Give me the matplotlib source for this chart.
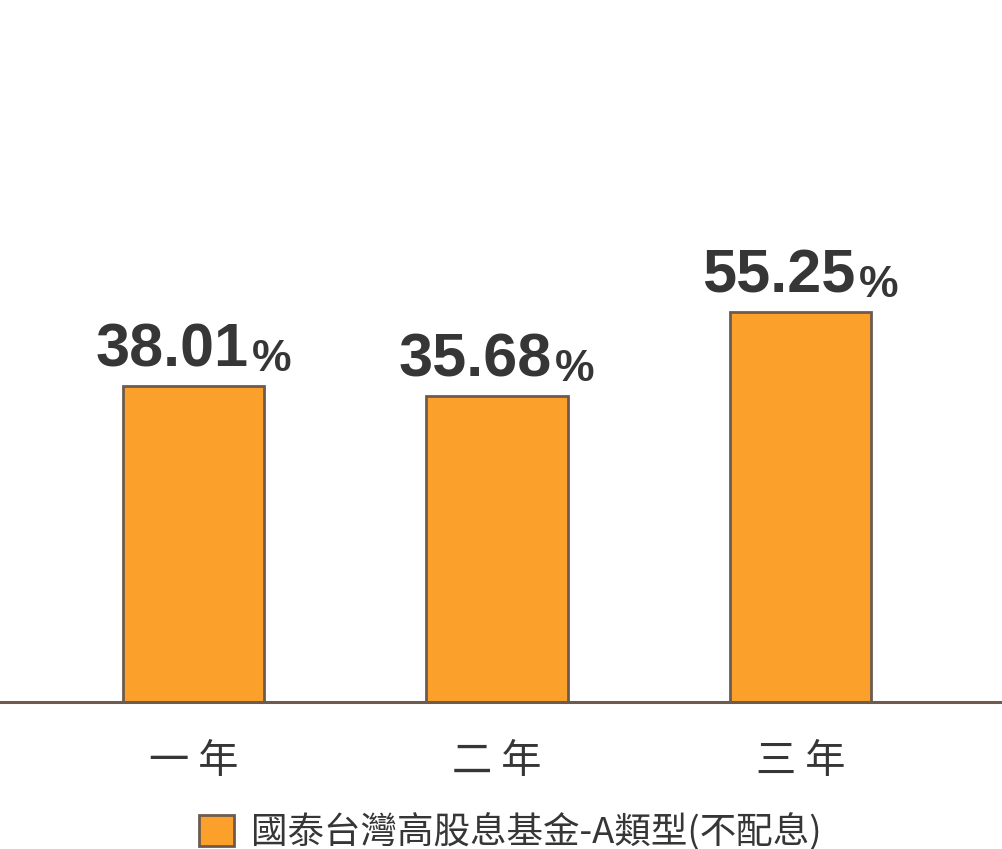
import matplotlib
matplotlib.use("Agg")
import matplotlib.pyplot as plt
from matplotlib.patches import Patch

# data
periods = ['一 年', '二 年', '三 年']
returns = [38.01, 35.68, 55.25]
fund_name = '國泰台灣高股息基金-A類型(不配息)'

bar_color = '#FBA12B'
edge_color = '#6E5B4E'
text_color = '#363636'
y_bottom, y_top = -35.6, 127.9

plt.rcParams['font.family'] = ['Noto Sans CJK TC', 'DejaVu Sans']

fig = plt.figure(figsize=(10.03, 8.49), dpi=100, facecolor='w')
ax = fig.add_axes([0, 1 - 702 / 849, 1, 702 / 849])

x = list(range(len(returns)))
heights = [v - y_bottom for v in returns]
ax.bar(x, heights, bottom=y_bottom, width=0.465, color=bar_color,
       edgecolor=edge_color, linewidth=2, zorder=2)

ax.set_xlim(-0.6376, 2.667)
ax.set_ylim(y_bottom, y_top)

for s in ['top', 'right', 'left']:
    ax.spines[s].set_visible(False)
ax.spines['bottom'].set_color(edge_color)
ax.spines['bottom'].set_linewidth(2.2)
ax.spines['bottom'].set_zorder(3)
ax.set_yticks([])
ax.set_xticks(x)
ax.set_xticklabels(periods, fontsize=29, color=text_color)
ax.tick_params(axis='x', length=0, pad=28)

# value labels: big number + small percent sign
for xi, v in zip(x, returns):
    ax.annotate('%.2f' % v, xy=(xi, v), xytext=(55, 6),
                textcoords='offset pixels', ha='right', va='bottom',
                fontsize=44, fontweight='bold', color=text_color,
                family='Liberation Sans')
    ax.annotate('%', xy=(xi, v), xytext=(58, 6),
                textcoords='offset pixels', ha='left', va='bottom',
                fontsize=32, fontweight='bold', color=text_color,
                family='Liberation Sans')

handle = Patch(facecolor=bar_color, edgecolor=edge_color, linewidth=2)
fig.legend([handle], [fund_name], loc='lower center',
           bbox_to_anchor=(0.509, -0.041), frameon=False, fontsize=26.3,
           handlelength=0.94, handleheight=0.94, handletextpad=0.48,
           labelcolor=text_color)

plt.savefig('out.png', dpi=100, facecolor='w')
